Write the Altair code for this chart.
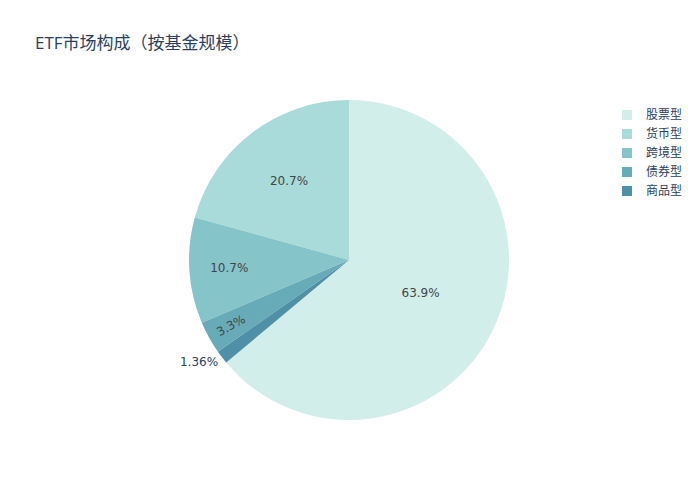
import math
import altair as alt
import pandas as pd

categories = ["股票型", "货币型", "跨境型", "债券型", "商品型"]
shares = [63.9, 20.7, 10.7, 3.3, 1.36]
labels = ["63.9%", "20.7%", "10.7%", "3.3%", "1.36%"]
clockwise_rank = [0, 4, 3, 2, 1]
colors = ["#d1eeea", "#a8dbd9", "#85c4c9", "#68abb8", "#4f90a6"]

df = pd.DataFrame({"类别": categories, "share": shares, "label": labels, "rank": clockwise_rank})
total = sum(shares)

CX, CY = 341, 252
FONT = "Open Sans, Noto Sans CJK SC, sans-serif"
LABEL_FONT = "DejaVu Sans, Noto Sans CJK SC, sans-serif"

base = alt.Chart(df)

pie = base.mark_arc(radius=160).encode(
    x=alt.value(CX),
    y=alt.value(CY),
    theta=alt.Theta("share:Q", stack=True),
    order=alt.Order("rank:Q"),
    color=alt.Color(
        "类别:N",
        scale=alt.Scale(domain=categories, range=colors),
        legend=alt.Legend(
            title=None, orient="none", legendX=613, legendY=101,
            symbolType="square", symbolSize=100, symbolStrokeWidth=0, symbolOpacity=1,
            labelFontSize=12, labelColor="#2a3f5f", labelFont=FONT,
            rowPadding=7, labelOffset=13, padding=0,
        ),
    ),
)

label_base = base.transform_window(
    cum="sum(share)", sort=[alt.SortField("rank")]
).transform_calculate(mid="datum.cum - datum.share / 2")

label_styles = {
    "股票型": dict(radius=79, color="#444444"),
    "货币型": dict(radius=99, color="#444444"),
    "跨境型": dict(radius=120, color="#444444"),
    "债券型": dict(radius=135, color="#444444", angle=331),
    "商品型": dict(radius=180, color="#2a3f5f", dx=-7, dy=-7),
}

layers = [pie]
for cat, st in label_styles.items():
    layers.append(
        label_base.transform_filter(alt.datum["类别"] == cat).mark_text(
            fontSize=12, font=LABEL_FONT, align="center", baseline="middle", **st
        ).encode(
            x=alt.value(CX),
            y=alt.value(CY),
            theta=alt.Theta("mid:Q", stack=None,
                            scale=alt.Scale(domain=[0, total], range=[0, 2 * math.pi])),
            text="label:N",
        )
    )

chart = alt.layer(*layers).resolve_scale(theta="independent").properties(
    width=684, height=484,
    autosize=alt.AutoSizeParams(type="none"),
    padding=0,
    background="white",
    title=alt.TitleParams(
        "ETF市场构成（按基金规模）", anchor="start", frame="group",
        fontSize=17, font=FONT, fontWeight="normal", color="#2a3f5f",
        offset=0, baseline="alphabetic", dx=27, dy=58,
    ),
).configure_view(stroke=None)

chart.save("out.html", embed_options={"renderer": "svg", "actions": False})
